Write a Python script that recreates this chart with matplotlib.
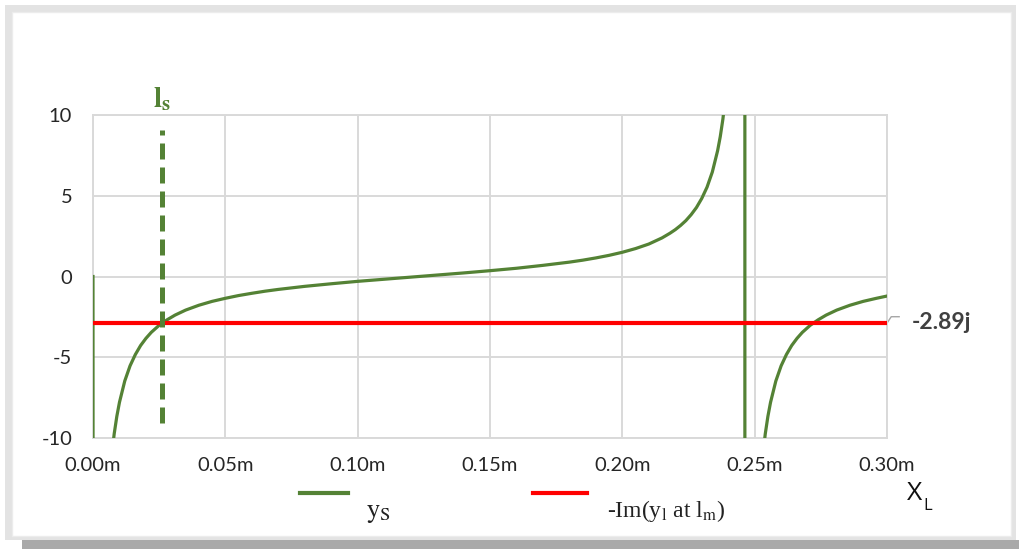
import matplotlib.pyplot as plt
from matplotlib.lines import Line2D
from matplotlib.patches import Rectangle

plt.rcParams['mathtext.fontset'] = 'stix'
plt.rcParams['axes.unicode_minus'] = False

# susceptance of the short-circuited stub vs. length
x_left = [0.0, 0.0004, 0.002, 0.004, 0.006, 0.007, 0.008, 0.009, 0.010, 0.012,
          0.014, 0.016, 0.018, 0.020, 0.022, 0.025, 0.028, 0.031, 0.035, 0.040,
          0.045, 0.050, 0.055, 0.060, 0.065, 0.070, 0.080, 0.090, 0.100, 0.110,
          0.120, 0.130, 0.140, 0.150, 0.160, 0.170, 0.180, 0.185, 0.190, 0.195,
          0.200, 0.205, 0.210, 0.215, 0.218, 0.220, 0.222, 0.224, 0.226, 0.228,
          0.230, 0.232, 0.234, 0.236, 0.237, 0.238, 0.239, 0.240, 0.242, 0.244,
          0.2462]
y_left = [0.0, -200, -39, -19.6, -13.0, -11.2, -9.75, -8.66, -7.79, -6.47,
          -5.53, -4.83, -4.27, -3.83, -3.46, -3.02, -2.68, -2.39, -2.08, -1.78,
          -1.54, -1.35, -1.18, -1.04, -0.91, -0.80, -0.61, -0.45, -0.30, -0.17,
          -0.04, 0.09, 0.22, 0.36, 0.51, 0.69, 0.89, 1.01, 1.15, 1.31,
          1.50, 1.73, 2.01, 2.39, 2.68, 2.90, 3.16, 3.46, 3.83, 4.27,
          4.83, 5.53, 6.47, 7.79, 8.66, 9.75, 11.2, 13.0, 19.5, 39.0,
          500]
x_right = [0.2462, 0.2464, 0.247, 0.248, 0.250, 0.252, 0.253, 0.254, 0.255, 0.256,
           0.258, 0.260, 0.262, 0.264, 0.266, 0.268, 0.271, 0.274, 0.277, 0.281,
           0.286, 0.291, 0.296, 0.300]
y_right = [500, -500, -78, -39, -19.5, -13.0, -11.2, -9.75, -8.66, -7.79,
           -6.47, -5.53, -4.83, -4.27, -3.83, -3.46, -3.02, -2.68, -2.39, -2.08,
           -1.78, -1.54, -1.35, -1.21]

ys_target = -2.89
x_range = [0.0, 0.30]
ls_pos = 0.026
ls_span = [-9.1, 9.1]

xticks = [0.0, 0.05, 0.10, 0.15, 0.20, 0.25, 0.30]
xlabels = ['0.00m', '0.05m', '0.10m', '0.15m', '0.20m', '0.25m', '0.30m']
yticks = [-10, -5, 0, 5, 10]

green = '#548235'
grid = '#d9d9d9'

fig = plt.figure(figsize=(10.19, 5.49), dpi=100)
W, H = 1019.0, 549.0

def fx(px):
    return px / W

def fy(py):
    return 1 - py / H

# panel frame and shadow
fig.add_artist(Rectangle((fx(22), fy(549)), fx(997), 9 / H, color='#a9a9a9', lw=0, zorder=-3))
fig.add_artist(Rectangle((fx(5), fy(540)), fx(1011), 535 / H, color='#e3e3e3', lw=0, zorder=-2))
fig.add_artist(Rectangle((fx(12), fy(536)), fx(999), 524 / H, facecolor='white',
                         edgecolor='#ececec', lw=1, zorder=-1))

ax = fig.add_axes([fx(93), fy(438), fx(887 - 93), (438 - 115) / H])
ax.set_zorder(2)
ax.set_facecolor('none')

ax.plot(x_left, y_left, color=green, lw=2.3, solid_joinstyle='round', zorder=3)
ax.plot(x_right, y_right, color=green, lw=2.3, solid_joinstyle='round', zorder=3)
ax.plot(x_range, [ys_target, ys_target], color='#ff0000', lw=3.0, zorder=4)
ax.plot([ls_pos, ls_pos], ls_span, color=green, lw=3.6, dashes=(3.2, 1.6), zorder=5)

ax.set_xlim(0, 0.30)
ax.set_ylim(-10, 10)
ax.set_xticks(xticks)
ax.set_xticklabels(xlabels)
ax.set_yticks(yticks)
ax.grid(True, color=grid, lw=1.4, zorder=0)
ax.tick_params(length=0, labelsize=14.5, labelcolor='#262626')
ax.tick_params(axis='x', pad=14)
ax.tick_params(axis='y', pad=15)
for lab in ax.get_xticklabels() + ax.get_yticklabels():
    lab.set_fontfamily('Lato')
for s in ax.spines.values():
    s.set_color(grid)
    s.set_linewidth(1.4)

# value label for the red line
ax.plot([0.30, 0.3016, 0.3046], [ys_target, ys_target + 0.4, ys_target + 0.4],
        color='#a6a6a6', lw=1.0, clip_on=False)
ax.text(0.3094, ys_target + 0.05, '-2.89j', fontsize=16.5, fontweight='bold',
        color='#404040', ha='left', va='center', family='Lato')

# stub length marker label
ax.text(ls_pos, 11.0, r'$\mathbf{l}_\mathbf{s}$', fontsize=21, color=green,
        ha='center', va='center', clip_on=False)

# legend drawn below the axes
fig.add_artist(Line2D([fx(300), fx(348)], [fy(493), fy(493)], color=green, lw=3))
fig.text(fx(366), fy(512), r'$\mathrm{y}_\mathrm{S}$', fontsize=19,
         ha='left', va='center', color='#222222')
fig.add_artist(Line2D([fx(533), fx(587)], [fy(493), fy(493)], color='#ff0000', lw=3))
fig.text(fx(607), fy(511), r'-Im(y$_\mathrm{l}$ at l$_\mathrm{m}$)', fontsize=17,
         family='Liberation Serif', ha='left', va='center', color='#222222')

fig.text(fx(907), fy(493), 'X', fontsize=19, family='Open Sans', ha='left',
         va='center', color='#111111')
fig.text(fx(923), fy(506), 'L', fontsize=12, family='Open Sans', ha='left',
         va='center', color='#111111')

fig.savefig('out.png', dpi=100)
